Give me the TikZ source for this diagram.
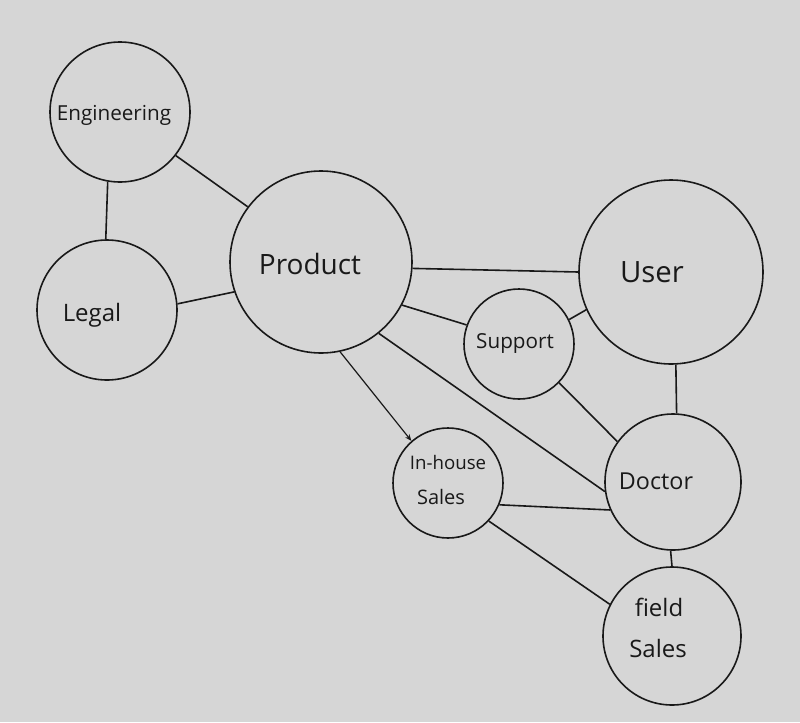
\documentclass[tikz,border=0pt]{standalone}
\usepackage{fontspec}
\setmainfont{Open Sans}
\usetikzlibrary{arrows.meta}
\definecolor{paper}{RGB}{214,214,214}
\definecolor{ink}{RGB}{25,25,25}
\begin{document}
\begin{tikzpicture}[x=0.75pt,y=-0.75pt,
  bubble/.style={circle,draw=ink,line width=1.2pt,inner sep=0pt},
  lbl/.style={text=ink,inner sep=0pt},
  link/.style={draw=ink,line width=1.2pt}]
\fill[paper] (0,0) rectangle (800,722);
\useasboundingbox (0,0) rectangle (800,722);
% circles
\node[bubble,minimum size=140*0.75pt] (eng) at (120,112) {};
\node[bubble,minimum size=140*0.75pt] (leg) at (107,310) {};
\node[bubble,minimum size=182*0.75pt] (prod) at (321,262) {};
\node[bubble,minimum size=184*0.75pt] (user) at (671,272) {};
\node[bubble,minimum size=110*0.75pt] (sup) at (519,344) {};
\node[bubble,minimum size=136*0.75pt] (doc) at (673,482) {};
\node[bubble,minimum size=110*0.75pt] (ihs) at (448,483) {};
\node[bubble,minimum size=138*0.75pt] (fs) at (672,636) {};
% labels
\node[lbl,font=\fontsize{15.5}{18}\selectfont] (t1) at (114,115) {Engineering};
\node[lbl,font=\fontsize{21}{24}\selectfont] (t2) at (310,264) {Product};
\node[lbl,font=\fontsize{18}{21}\selectfont] (t3) at (92,315) {Legal};
\node[lbl,font=\fontsize{22}{25}\selectfont] (t4) at (652,272) {User};
\node[lbl,font=\fontsize{15.5}{18}\selectfont] (t5) at (515,343) {Support};
\node[lbl,font=\fontsize{14}{16}\selectfont] (t6) at (448,462) {In-house};
\node[lbl,font=\fontsize{15}{17}\selectfont] (t7) at (441,497) {Sales};
\node[lbl,font=\fontsize{17.5}{20}\selectfont] (t8) at (656,481) {Doctor};
\node[lbl,font=\fontsize{18}{21}\selectfont] (t9) at (659,607) {field};
\node[lbl,font=\fontsize{18}{21}\selectfont] (t10) at (658,648) {Sales};
% connectors
\draw[link] (eng.-100) -- (leg.91);
\draw[link] (eng.-38) -- (prod.143);
\draw[link] (leg.5) -- (prod.199);
\draw[link] (prod.-4) -- (user.180);
\draw[link] (prod.-28) -- (sup.160);
\draw[link,line width=0.9pt,-{Stealth[length=5pt,width=4pt]}] (prod.-78) -- (ihs.131);
\draw[link] (prod.-51) -- (doc.188);
\draw[link] (sup.26) -- (user.204);
\draw[link] (sup.-44) -- (doc.144);
\draw[link] (user.-87) -- (doc.87);
\draw[link] (ihs.-23) -- (doc.204);
\draw[link] (ihs.-43) -- (fs.153);
\draw[link] (doc.-92) -- (fs.90);
\end{tikzpicture}
\end{document}
